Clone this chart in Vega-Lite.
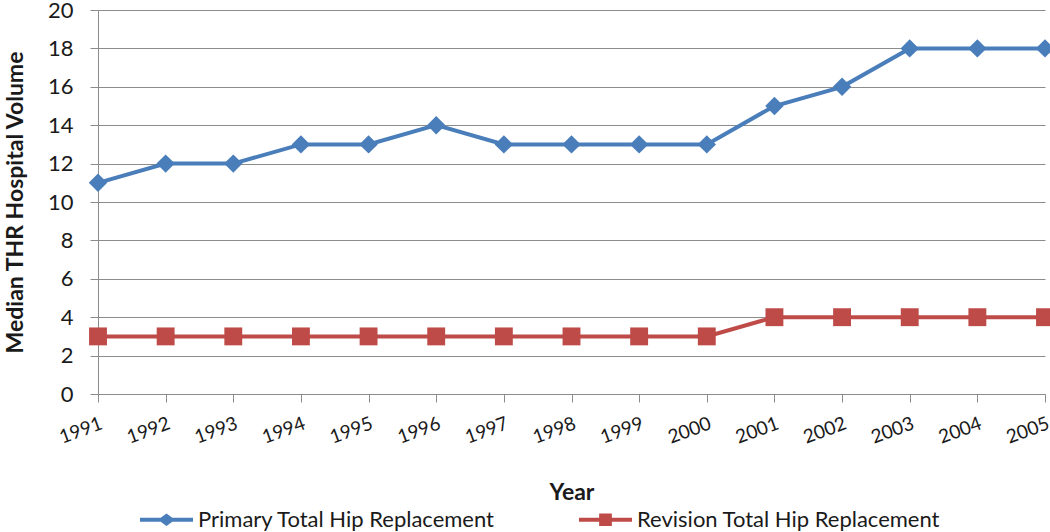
{
  "$schema": "https://vega.github.io/schema/vega-lite/v6.json",
  "width": 947,
  "height": 384,
  "autosize": {"type": "none"},
  "padding": {"left": 98, "top": 10, "right": 5, "bottom": 138},
  "background": "white",
  "config": {
    "font": "Lato",
    "view": {"stroke": null},
    "axis": {"labelColor": "#1a1a1a", "titleColor": "#1a1a1a", "labelFont": "Lato", "titleFont": "Lato"}
  },
  "data": {
    "values": [
      {"year": "1991", "series": "Primary Total Hip Replacement", "volume": 11},
      {"year": "1992", "series": "Primary Total Hip Replacement", "volume": 12},
      {"year": "1993", "series": "Primary Total Hip Replacement", "volume": 12},
      {"year": "1994", "series": "Primary Total Hip Replacement", "volume": 13},
      {"year": "1995", "series": "Primary Total Hip Replacement", "volume": 13},
      {"year": "1996", "series": "Primary Total Hip Replacement", "volume": 14},
      {"year": "1997", "series": "Primary Total Hip Replacement", "volume": 13},
      {"year": "1998", "series": "Primary Total Hip Replacement", "volume": 13},
      {"year": "1999", "series": "Primary Total Hip Replacement", "volume": 13},
      {"year": "2000", "series": "Primary Total Hip Replacement", "volume": 13},
      {"year": "2001", "series": "Primary Total Hip Replacement", "volume": 15},
      {"year": "2002", "series": "Primary Total Hip Replacement", "volume": 16},
      {"year": "2003", "series": "Primary Total Hip Replacement", "volume": 18},
      {"year": "2004", "series": "Primary Total Hip Replacement", "volume": 18},
      {"year": "2005", "series": "Primary Total Hip Replacement", "volume": 18},
      {"year": "1991", "series": "Revision Total Hip Replacement", "volume": 3},
      {"year": "1992", "series": "Revision Total Hip Replacement", "volume": 3},
      {"year": "1993", "series": "Revision Total Hip Replacement", "volume": 3},
      {"year": "1994", "series": "Revision Total Hip Replacement", "volume": 3},
      {"year": "1995", "series": "Revision Total Hip Replacement", "volume": 3},
      {"year": "1996", "series": "Revision Total Hip Replacement", "volume": 3},
      {"year": "1997", "series": "Revision Total Hip Replacement", "volume": 3},
      {"year": "1998", "series": "Revision Total Hip Replacement", "volume": 3},
      {"year": "1999", "series": "Revision Total Hip Replacement", "volume": 3},
      {"year": "2000", "series": "Revision Total Hip Replacement", "volume": 3},
      {"year": "2001", "series": "Revision Total Hip Replacement", "volume": 4},
      {"year": "2002", "series": "Revision Total Hip Replacement", "volume": 4},
      {"year": "2003", "series": "Revision Total Hip Replacement", "volume": 4},
      {"year": "2004", "series": "Revision Total Hip Replacement", "volume": 4},
      {"year": "2005", "series": "Revision Total Hip Replacement", "volume": 4}
    ]
  },
  "encoding": {
    "x": {
      "field": "year", "type": "ordinal", "title": "Year",
      "scale": {"type": "point", "padding": 0},
      "axis": {
        "labelAngle": -20, "labelFontSize": 19, "labelPadding": 12,
        "tickSize": 8, "tickColor": "#8c8c8c", "domainColor": "#8c8c8c",
        "titleFontSize": 23, "titleFontWeight": "bold", "titlePadding": 35,
        "grid": false
      }
    },
    "y": {
      "field": "volume", "type": "quantitative",
      "title": "Median THR Hospital Volume",
      "scale": {"domain": [0, 20], "nice": false},
      "axis": {
        "values": [0, 2, 4, 6, 8, 10, 12, 14, 16, 18, 20],
        "labelFontSize": 22, "labelPadding": 17,
        "tickSize": 8, "tickColor": "#8c8c8c", "domainColor": "#8c8c8c",
        "gridColor": "#8c8c8c", "gridWidth": 1,
        "titleFontSize": 23, "titleFontWeight": "bold", "titlePadding": 20
      }
    },
    "color": {
      "field": "series", "type": "nominal",
      "scale": {"domain": ["Primary Total Hip Replacement", "Revision Total Hip Replacement"], "range": ["#4A7EBB", "#BE4B48"]}
    }
  },
  "layer": [
    {
      "mark": {"type": "line", "strokeWidth": 4},
      "encoding": {
        "color": {
          "field": "series", "type": "nominal",
          "legend": {
            "orient": "none", "legendX": 42, "legendY": 483, "direction": "horizontal", "title": null,
            "padding": 0,
            "labelFontSize": 22, "labelColor": "#1a1a1a", "labelFont": "Lato", "labelLimit": 500,
            "symbolSize": 2809, "labelOffset": 5, "columnPadding": 83,
            "encode": {
              "symbols": {
                "update": {
                  "shape": {"signal": "datum.value == 'Primary Total Hip Replacement' ? 'M-1,-0.075H-0.22L0,-0.24L0.22,-0.075H1V0.075H0.22L0,0.24L-0.22,0.075H-1Z' : 'M-1,-0.075H-0.24V-0.24H0.24V-0.075H1V0.075H0.24V0.24H-0.24V0.075H-1Z'"},
                  "fill": {"signal": "datum.value == 'Primary Total Hip Replacement' ? '#4A7EBB' : '#BE4B48'"},
                  "stroke": {"value": "transparent"},
                  "strokeWidth": {"value": 0}
                }
              }
            }
          }
        }
      }
    },
    {
      "transform": [{"filter": "datum.series == 'Primary Total Hip Replacement'"}],
      "mark": {"type": "point", "filled": true, "opacity": 1, "shape": "diamond", "size": 340},
      "encoding": {
        "color": {"field": "series", "type": "nominal", "legend": null}
      }
    },
    {
      "transform": [{"filter": "datum.series == 'Revision Total Hip Replacement'"}],
      "mark": {"type": "point", "filled": true, "opacity": 1, "shape": "square", "size": 320},
      "encoding": {
        "color": {"field": "series", "type": "nominal", "legend": null}
      }
    }
  ]
}
